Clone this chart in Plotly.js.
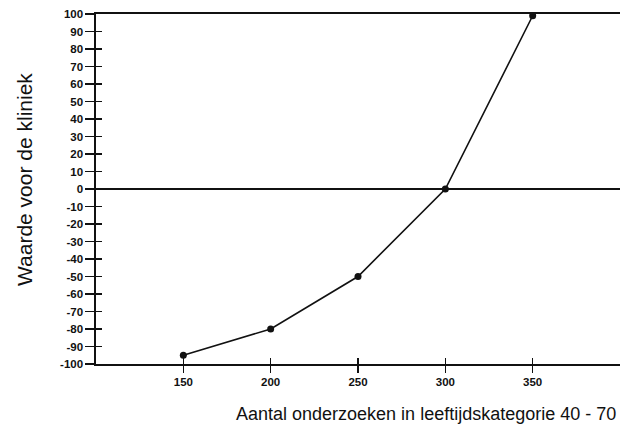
<!DOCTYPE html>
<html><head><meta charset="utf-8">
<script src="https://cdn.plot.ly/plotly-3.0.1.min.js"></script>
<style>body{margin:0;background:#fff}#c{width:623px;height:443px}</style>
</head><body><div id="c"></div>
<script>
const xVals = [150, 200, 250, 300, 350];
const yVals = [-95, -80, -50, 0, 99];
const xTicks = [150, 200, 250, 300, 350];
const yTicks = [100,90,80,70,60,50,40,30,20,10,0,-10,-20,-30,-40,-50,-60,-70,-80,-90,-100];
const xTitle = 'Aantal onderzoeken in leeftijdskategorie 40 - 70';
const yTitle = 'Waarde voor de kliniek';

const trace = {x: xVals, y: yVals, type:'scatter', mode:'lines+markers',
  line:{color:'#111', width:1.6}, marker:{color:'#111', size:7}, showlegend:false, hoverinfo:'skip'};
const tickFont = {family:'Liberation Sans, Arial, sans-serif', size:11.5, color:'#111', weight:'bold'};
const titleFont = {family:'Liberation Sans, Arial, sans-serif', size:18, color:'#111'};
const layout = {
  width:623, height:443,
  margin:{l:96, r:3, t:14, b:79},
  paper_bgcolor:'#fff', plot_bgcolor:'#fff',
  xaxis:{range:[100,400], tickvals:xTicks, ticktext:xTicks.map(String), showgrid:false, zeroline:false,
    showline:true, linecolor:'#111', linewidth:1.6, mirror:true, ticks:'outside', ticklen:7, tickwidth:1.3, tickcolor:'#111',
    tickfont:tickFont},
  yaxis:{range:[-100,100], tickvals:yTicks, ticktext:yTicks.map(String), showgrid:false, zeroline:true, zerolinecolor:'#111', zerolinewidth:1.6,
    showline:true, linecolor:'#111', linewidth:1.6, ticks:'outside', ticklen:9, tickwidth:1.3, tickcolor:'#111',
    tickfont:tickFont},
  xaxis2:{overlaying:'x', range:[100,400], tickvals:xTicks, showticklabels:false, ticks:'inside', ticklen:6, tickwidth:1.3, tickcolor:'#111', showgrid:false, zeroline:false, showline:false},
  yaxis2:{overlaying:'y', range:[-100,100], tickvals:yTicks, showticklabels:false, ticks:'inside', ticklen:6, tickwidth:1.3, tickcolor:'#111', showgrid:false, zeroline:false, showline:false},
  annotations:[
    {text:xTitle, xref:'paper', yref:'paper', x:(426-96)/524, y:-(414-364)/350, xanchor:'center', yanchor:'middle', showarrow:false, font:titleFont},
    {text:yTitle, xref:'paper', yref:'paper', x:-(96-24)/524, y:(364-180)/350, xanchor:'center', yanchor:'middle', textangle:-90, showarrow:false, font:{family:titleFont.family, size:21, color:'#111'}}
  ]
};
const dummy = {x:[xVals[0]], y:[yVals[0]], xaxis:'x2', yaxis:'y2', mode:'markers', marker:{opacity:0}, showlegend:false, hoverinfo:'skip'};
Plotly.newPlot('c', [trace, dummy], layout, {staticPlot:true});
</script></body></html>
